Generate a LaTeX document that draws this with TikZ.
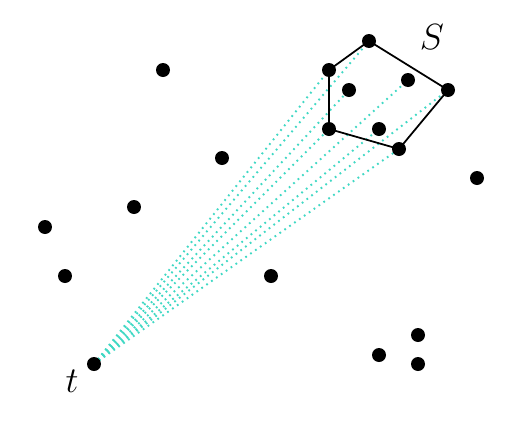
\documentclass[tikz,border=0pt]{standalone}
\usepackage{tikz}
\usetikzlibrary{positioning,backgrounds}
\definecolor{sight}{RGB}{64,216,196}

\begin{document}
\begin{tikzpicture}[x=0.02cm,y=-0.02cm,
  pt/.style={circle,fill=black,minimum size=2.8mm,inner sep=0pt},
  hull/.style={black,line width=1pt},
  ray/.style={sight,line width=1.1pt,dash pattern=on 1pt off 2.4pt},
  lbl/.style={font=\fontsize{22}{26}\selectfont}]
\useasboundingbox (0,0) rectangle (521,420);
% the set S
\node[pt] (s1) at (369,41) {};
\node[pt] (s2) at (329,70) {};
\node[pt] (s3) at (448,90) {};
\node[pt] (s4) at (349,90) {};
\node[pt] (s5) at (408,80) {};
\node[pt] (s6) at (329,129) {};
\node[pt] (s7) at (379,129) {};
\node[pt] (s8) at (399,149) {};
% the other points
\node[pt] (p1) at (163,70) {};
\node[pt] (p2) at (222,158) {};
\node[pt] (p3) at (477,178) {};
\node[pt] (p4) at (134,207) {};
\node[pt] (p5) at (45,227) {};
\node[pt] (p6) at (65,276) {};
\node[pt] (p7) at (271,276) {};
\node[pt] (p8) at (418,335) {};
\node[pt] (p9) at (379,355) {};
\node[pt] (p10) at (418,364) {};
\node[pt] (t) at (94,364) {};
\begin{scope}[on background layer]
\foreach \s in {s1,s2,s3,s4,s5,s6,s7,s8}
  \draw[ray] (t.center)--(\s.center);
\draw[hull] (s1.center)--(s3.center)--(s8.center)--(s6.center)--(s2.center)--cycle;
\end{scope}
\node[lbl] (lS) at (432,37) {$S$};
\node[lbl] (lt) at (72,381) {$t$};
\end{tikzpicture}
\end{document}
